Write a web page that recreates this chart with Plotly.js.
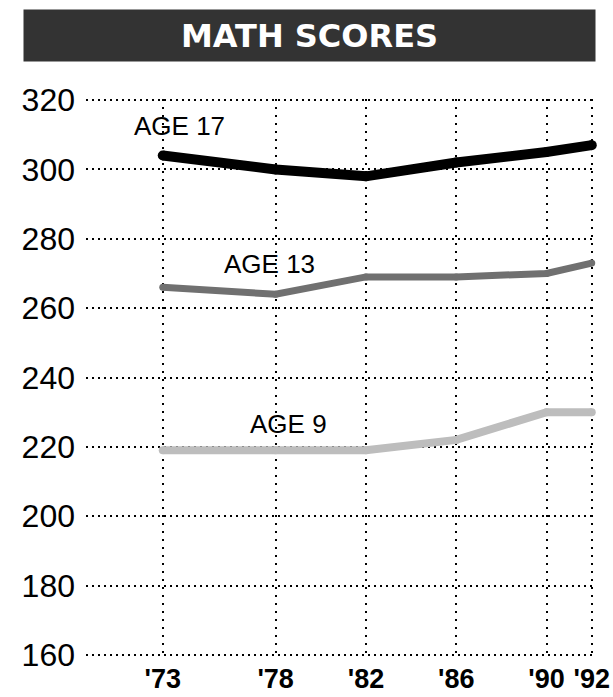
<!DOCTYPE html>
<html>
<head>
<meta charset="utf-8">
<script src="https://cdn.plot.ly/plotly-3.0.1.min.js"></script>
<style>
  html, body { margin: 0; padding: 0; background: #ffffff; }
  #chart { width: 613px; height: 697px; }
</style>
</head>
<body>
<div id="chart"></div>
<script>
// ---- data ----
const years = [73, 78, 82, 86, 90, 92];
const yearLabels = ["'73", "'78", "'82", "'86", "'90", "'92"];
const age17 = [304, 300, 298, 302, 305, 307];
const age13 = [266, 264, 269, 269, 270, 273];
const age9  = [219, 219, 219, 222, 230, 230];
const yTicks = [160, 180, 200, 220, 240, 260, 280, 300, 320];
const chartTitle = 'MATH SCORES';

function lineTrace(y, color, width, name) {
  return {
    x: years, y: y, name: name,
    mode: 'lines+markers',
    line: { color: color, width: width, shape: 'linear' },
    marker: { color: color, size: width, line: { width: 0 } },
    cliponaxis: false,
    hoverinfo: 'skip',
    showlegend: false
  };
}

const traces = [
  lineTrace(age9, '#bdbdbd', 8, 'AGE 9'),
  lineTrace(age13, '#707070', 7, 'AGE 13'),
  lineTrace(age17, '#000000', 10, 'AGE 17')
];

const labelFont = { family: 'Liberation Sans, Arial, sans-serif', size: 26, color: '#000' };

const layout = {
  width: 613, height: 697,
  margin: { l: 86, r: 19, t: 99, b: 41, pad: 0 },
  paper_bgcolor: '#ffffff', plot_bgcolor: '#ffffff',
  showlegend: false,
  xaxis: {
    range: [69.6, 92.1],
    tickmode: 'array', tickvals: years, ticktext: yearLabels,
    showgrid: true, gridcolor: '#000', gridwidth: 2, griddash: '2px,6px',
    zeroline: false, showline: false, ticks: '',
    tickfont: { family: 'Liberation Sans, Arial, sans-serif', size: 27, color: '#000', weight: 'bold' },
    ticklabelstandoff: 4,
    fixedrange: true
  },
  yaxis: {
    range: [159.7, 320.3],
    tickmode: 'array', tickvals: yTicks, ticktext: yTicks.map(String),
    showgrid: true, gridcolor: '#000', gridwidth: 2, griddash: '2px,4px',
    zeroline: false, showline: false, ticks: '',
    tickfont: { family: 'Liberation Sans, Arial, sans-serif', size: 32, color: '#000' },
    ticklabelstandoff: 10,
    fixedrange: true
  },
  annotations: [
    { text: chartTitle, xref: 'paper', yref: 'paper', x: 0.4397, y: 1.1144,
      xanchor: 'center', yanchor: 'middle', showarrow: false,
      width: 571, height: 51, bgcolor: '#333333', borderpad: 0,
      font: { family: 'DejaVu Sans, sans-serif', size: 32, color: '#ffffff', weight: 'bold' } },
    { text: 'AGE 17', x: 73.75, y: 312.5, xref: 'x', yref: 'y', showarrow: false, font: labelFont },
    { text: 'AGE 13', x: 77.74, y: 272.6, xref: 'x', yref: 'y', showarrow: false, font: labelFont },
    { text: 'AGE 9', x: 78.58, y: 226.7, xref: 'x', yref: 'y', showarrow: false, font: labelFont }
  ]
};

Plotly.newPlot('chart', traces, layout, { staticPlot: true, displayModeBar: false });
</script>
</body>
</html>
